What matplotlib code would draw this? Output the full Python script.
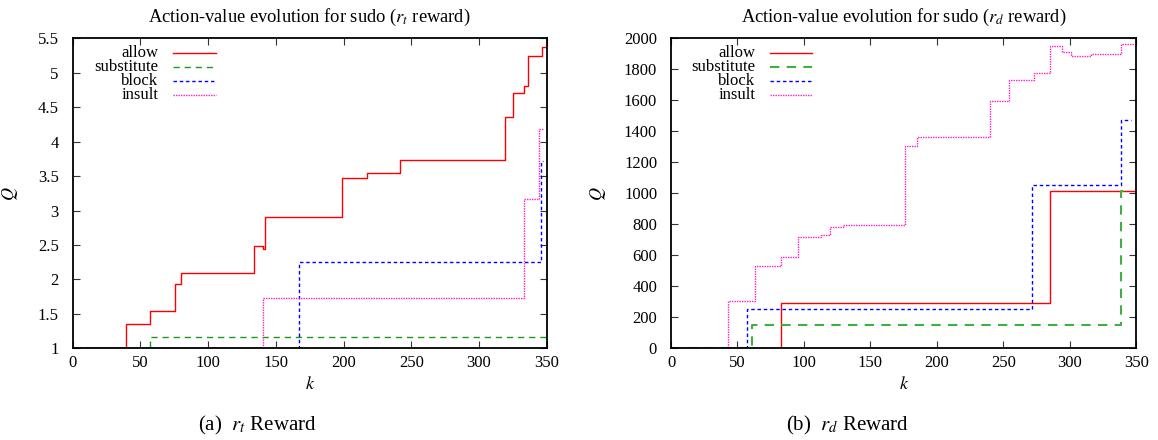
import matplotlib
matplotlib.use("Agg")
import matplotlib.pyplot as plt

plt.rcParams['font.family'] = ['Liberation Serif', 'DejaVu Serif']
plt.rcParams['mathtext.fontset'] = 'stix'

series_names = ["allow", "substitute", "block", "insult"]
colors = ["#ff0000", "#1a9a1a", "#0000ff", "#ff20c0"]

# ---- (a) r_t reward ----
a_allow_k = [0, 39, 57.3, 75.6, 79.7, 134, 140.3, 141.8, 198.7, 217, 241.7, 319.3, 325.4, 333.3, 336.5, 346.8, 350]
a_allow_q = [1, 1.35, 1.54, 1.94, 2.10, 2.48, 2.44, 2.90, 3.47, 3.55, 3.73, 4.36, 4.70, 4.81, 5.24, 5.38, 5.38]
a_sub_k = [0, 57.3, 350]
a_sub_q = [1, 1.165, 1.165]
a_block_k = [0, 167.2, 345.6, 347]
a_block_q = [1, 2.25, 3.72, 3.72]
a_insult_k = [0, 140.3, 333.3, 344.6, 348]
a_insult_q = [1, 1.726, 3.17, 4.18, 4.18]

# ---- (b) r_d reward ----
b_allow_k = [0, 82.7, 285, 350]
b_allow_q = [0, 290, 1017, 1017]
b_sub_k = [0, 61.1, 338.8, 340.5]
b_sub_q = [0, 153, 1015, 1015]
b_block_k = [0, 56.9, 271.5, 338.8, 346.3]
b_block_q = [0, 252, 1056, 1471, 1471]
b_insult_k = [0, 42.9, 63.2, 82.7, 95.7, 112.8, 119.5, 129.5, 176, 184.7, 240, 254.5, 273.3, 285, 294.3, 300.6, 316.3, 338.8, 350]
b_insult_q = [0, 305, 533, 587, 716, 729, 785, 796, 1305, 1361, 1598, 1731, 1774, 1950, 1910, 1888, 1898, 1962, 1962]

titles = ["Action-value evolution for sudo ($r_t$ reward)",
          "Action-value evolution for sudo ($r_d$ reward)"]
captions = ["(a)  $r_t$ Reward", "(b)  $r_d$ Reward"]
x_ticks = [0, 50, 100, 150, 200, 250, 300, 350]
a_yticks = [1, 1.5, 2, 2.5, 3, 3.5, 4, 4.5, 5, 5.5]
a_yticklabels = ["1", "1.5", "2", "2.5", "3", "3.5", "4", "4.5", "5", "5.5"]
b_yticks = [0, 200, 400, 600, 800, 1000, 1200, 1400, 1600, 1800, 2000]

styles = [dict(ls='-', lw=1.0),
          dict(ls=(0, (4.5, 3.5)), lw=1.0),
          dict(ls=(0, (2.5, 2.0)), lw=1.0),
          dict(ls=(0, (1.0, 0.8)), lw=1.0)]

fig = plt.figure(figsize=(11.58, 4.40), dpi=100)
W, H = 1158, 440
ax1 = fig.add_axes([72.7 / W, 1 - 348.3 / H, (546.6 - 72.7) / W, 310 / H])
ax2 = fig.add_axes([671 / W, 1 - 348.3 / H, (1136.3 - 671) / W, 310 / H])

data = [
    [(a_allow_k, a_allow_q), (a_sub_k, a_sub_q), (a_block_k, a_block_q), (a_insult_k, a_insult_q)],
    [(b_allow_k, b_allow_q), (b_sub_k, b_sub_q), (b_block_k, b_block_q), (b_insult_k, b_insult_q)],
]
caption_x = [257, 847]
ylabel_x = [-0.111, -0.135]

for i, ax in enumerate([ax1, ax2]):
    for j, (k, q) in enumerate(data[i]):
        st = dict(styles[j])
        col = colors[j]
        if i == 1 and j == 1:
            st['lw'] = 1.5
            col = '#40b040'
        ax.plot(k, q, drawstyle='steps-post', color=col, **st)
    ax.set_xlim(0, 350)
    ax.set_xticks(x_ticks)
    if i == 0:
        ax.set_ylim(1, 5.5)
        ax.set_yticks(a_yticks)
        ax.set_yticklabels(a_yticklabels)
    else:
        ax.set_ylim(0, 2000)
        ax.set_yticks(b_yticks)
    ax.tick_params(direction='in', top=True, right=True, length=5, width=0.8,
                   labelsize=12, color='#333333')
    ax.tick_params(axis='x', pad=5)
    ax.tick_params(axis='y', pad=10)
    for sp in ax.spines.values():
        sp.set_linewidth(1.3)
    ax.set_title(titles[i], fontsize=13.3, pad=12)
    ax.set_xlabel('$k$', fontsize=13)
    ax.xaxis.set_label_coords(0.5, -0.088)
    ax.set_ylabel('$Q$', fontsize=13)
    ax.yaxis.set_label_coords(ylabel_x[i], 0.5)
    # legend (gnuplot-like: right-aligned text, sample line to the right)
    rows = [0.9526, 0.9074, 0.8623, 0.8187]
    for j, name in enumerate(series_names):
        ax.text(0.181, rows[j], name, transform=ax.transAxes, ha='right', va='center', fontsize=12)
        st = dict(styles[j])
        col = colors[j]
        if i == 1 and j == 1:
            st['lw'] = 1.5
            col = '#40b040'
        ax.plot([0.212, 0.302], [rows[j], rows[j]], transform=ax.transAxes,
                color=col, **st)
    fig.text(caption_x[i] / W, 15 / H, captions[i], ha='center', va='center', fontsize=15)

fig.savefig("out.png", dpi=100)
